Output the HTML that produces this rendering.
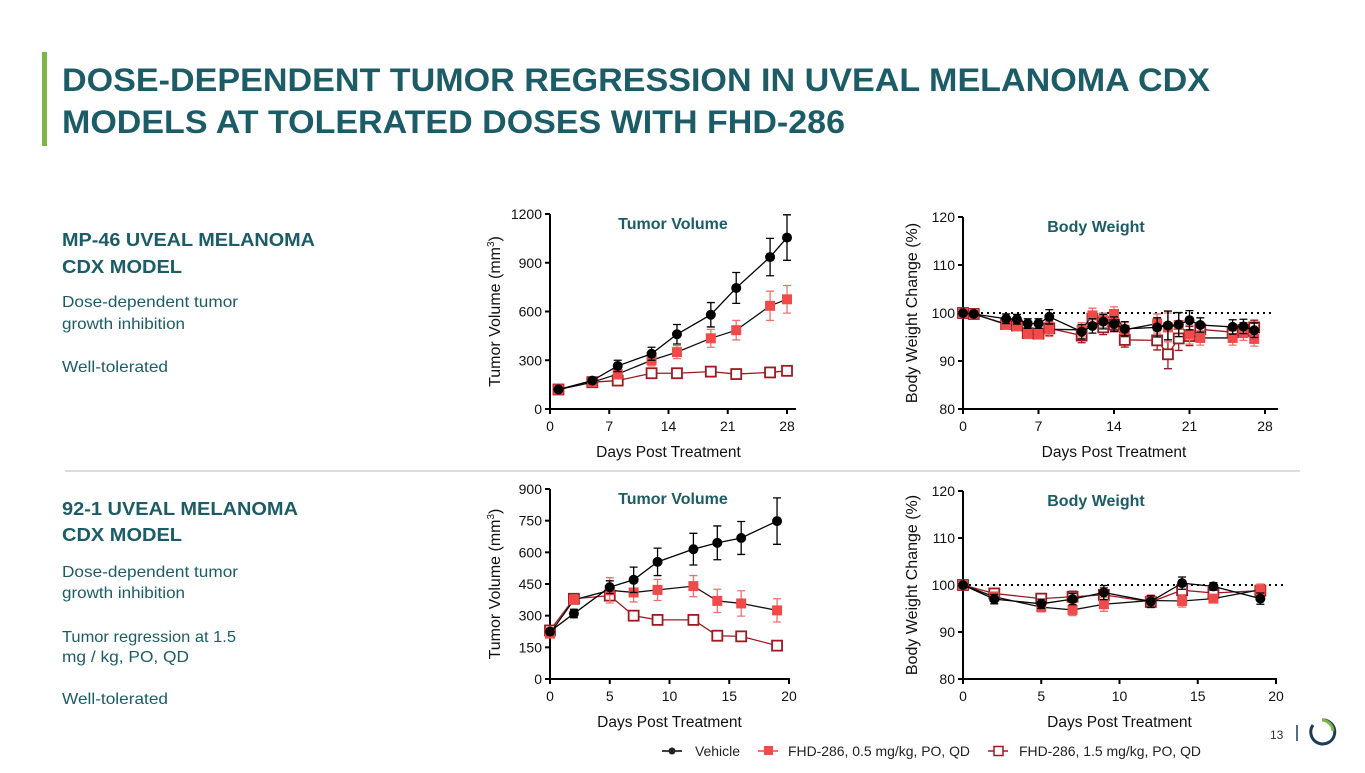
<!DOCTYPE html>
<html><head><meta charset="utf-8"><style>
body{margin:0;width:1365px;height:768px;overflow:hidden;background:#fff;font-family:"Liberation Sans",Arial,sans-serif;}
</style></head><body>
<svg id="s" width="1365" height="768" xmlns="http://www.w3.org/2000/svg" font-family="Liberation Sans, Arial, sans-serif">
<rect x="42" y="52" width="5" height="94" fill="#7ab648"/>
<text fill="#1b5c66" font-size="32" font-weight="bold"><tspan x="62" y="91" textLength="1148" lengthAdjust="spacingAndGlyphs">DOSE-DEPENDENT TUMOR REGRESSION IN UVEAL MELANOMA CDX</tspan><tspan x="62" y="133" textLength="783" lengthAdjust="spacingAndGlyphs">MODELS AT TOLERATED DOSES WITH FHD-286</tspan></text>
<g fill="#1b5c66">
<text x="62" y="246" font-size="18" font-weight="bold" textLength="253" lengthAdjust="spacingAndGlyphs">MP-46 UVEAL MELANOMA</text>
<text x="62" y="273" font-size="18" font-weight="bold" textLength="120" lengthAdjust="spacingAndGlyphs">CDX MODEL</text>
<text x="62" y="307" font-size="16" textLength="176" lengthAdjust="spacingAndGlyphs">Dose-dependent tumor</text>
<text x="62" y="329" font-size="16" textLength="123" lengthAdjust="spacingAndGlyphs">growth inhibition</text>
<text x="62" y="372" font-size="16" textLength="106" lengthAdjust="spacingAndGlyphs">Well-tolerated</text>
</g>
<line x1="65" y1="471" x2="1300" y2="471" stroke="#d0d0d0" stroke-width="1.5"/>
<g fill="#1b5c66">
<text x="62" y="515" font-size="18" font-weight="bold" textLength="236" lengthAdjust="spacingAndGlyphs">92-1 UVEAL MELANOMA</text>
<text x="62" y="541" font-size="18" font-weight="bold" textLength="120" lengthAdjust="spacingAndGlyphs">CDX MODEL</text>
<text x="62" y="577" font-size="16" textLength="176" lengthAdjust="spacingAndGlyphs">Dose-dependent tumor</text>
<text x="62" y="598" font-size="16" textLength="123" lengthAdjust="spacingAndGlyphs">growth inhibition</text>
<text x="62" y="642" font-size="16" textLength="174" lengthAdjust="spacingAndGlyphs">Tumor regression at 1.5</text>
<text x="62" y="662" font-size="16" textLength="127" lengthAdjust="spacingAndGlyphs">mg / kg, PO, QD</text>
<text x="62" y="704" font-size="16" textLength="106" lengthAdjust="spacingAndGlyphs">Well-tolerated</text>
</g>
<g font-size="14" fill="#222">
<line x1="662" y1="751" x2="682" y2="751" stroke="#000" stroke-width="1.5"/><circle cx="672" cy="751" r="3.5"/>
<text x="695" y="756" textLength="45" lengthAdjust="spacingAndGlyphs">Vehicle</text>
<line x1="758" y1="751" x2="778" y2="751" stroke="#e84545" stroke-width="1.5"/><rect x="764" y="746" width="9" height="9" fill="#ef4b4b"/>
<text x="788" y="756" textLength="182" lengthAdjust="spacingAndGlyphs">FHD-286, 0.5 mg/kg, PO, QD</text>
<line x1="988" y1="751" x2="1008" y2="751" stroke="#a01820" stroke-width="1.5"/><rect x="994" y="746.5" width="9" height="9" fill="#fff" stroke="#a01820" stroke-width="1.5"/>
<text x="1019" y="756" textLength="182" lengthAdjust="spacingAndGlyphs">FHD-286, 1.5 mg/kg, PO, QD</text>
</g>
<text x="1270" y="739" font-size="12" fill="#333">13</text>
<line x1="1297" y1="725" x2="1297" y2="741" stroke="#1b3a5c" stroke-width="1.5"/>
<path d="M1322 720 A12 12 0 1 1 1313 725" fill="none" stroke="#1b3a5c" stroke-width="3"/>
<path d="M1322 720 A12 12 0 0 1 1333 731" fill="none" stroke="#7ab648" stroke-width="3"/>
</svg>
<script>
// ---- Chart data ----
const tvTopDays=[1,5,8,12,15,19,22,26,28];
const tvTopVeh=[120,175,265,340,460,580,745,935,1055];
const tvTopVehErr=[10,15,35,40,60,75,95,115,140];
const tvTopLow=[120,165,215,300,350,435,485,635,675];
const tvTopLowErr=[10,10,30,35,40,55,60,90,85];
const tvTopHigh=[120,165,175,220,220,230,215,225,235];
const tvTopHighErr=[10,10,20,30,25,30,25,25,30];

const bwTopDays=[0,1,4,5,6,7,8,11,12,13,14,15,18,19,20,21,22,25,26,27];
const bwTopVeh=[100,99.8,98.8,98.7,97.8,97.8,99.2,96.1,97.3,98.2,97.7,96.7,97,97.4,97.6,98.5,97.5,97.1,97.2,96.4];
const bwTopLow=[100,99.8,97.6,97.3,95.7,95.6,96.6,96.5,99.5,98.5,99.8,96.5,97.8,97,97.5,95.5,94.8,94.8,95.8,94.6];
const bwTopHigh=[100,99.8,97.7,97.4,95.8,95.7,96.8,95.3,98.8,97,97.6,94.4,94.3,91.4,94.7,95.2,96.6,96,96.5,97];
const bwTopErr=[0.5,0.5,1,1,1,1,1.5,1.5,1.5,1.5,1.5,1.5,2,3,2.5,2,1.5,1.5,1.5,1.5];

const tvBotDays=[0,2,5,7,9,12,14,16,19];
const tvBotVeh=[225,310,435,470,555,615,645,668,748];
const tvBotVehErr=[15,20,30,60,65,75,80,78,110];
const tvBotLow=[215,375,420,410,422,440,370,358,325];
const tvBotLowErr=[15,15,60,45,50,50,55,60,55];
const tvBotHigh=[230,380,395,300,280,280,205,202,158];
const tvBotHighErr=[10,10,10,8,8,8,8,8,8];

const bwBotDays=[0,2,5,7,9,12,14,16,19];
const bwBotVeh=[100,97,96,97,98.4,96.5,100.4,99.7,97.1];
const bwBotLow=[100,97.5,95.3,94.7,95.9,96.7,96.6,97.1,99];
const bwBotHigh=[100,98.2,97.1,97.5,97.9,96.4,98.9,98.3,98.8];
const bwBotErr=[0.5,1,1,1.2,1.5,1.2,1.3,0.8,1.2];

const xTicksTop=[0,7,14,21,28];
const xTicksBot=[0,5,10,15,20];
const tvTopYTicks=[0,300,600,900,1200];
const tvBotYTicks=[0,150,300,450,600,750,900];
const bwYTicks=[80,90,100,110,120];

const NS="http://www.w3.org/2000/svg";
const svg=document.getElementById('s');
function mk(tag,attrs,parent){const e=document.createElementNS(NS,tag);for(const k in attrs)e.setAttribute(k,attrs[k]);(parent||svg).appendChild(e);return e;}

function chart(cfg){
  const g=mk('g',{});
  
  
  const X=v=>cfg.x0+(v-cfg.xmin)/(cfg.xmax-cfg.xmin)*(cfg.x1-cfg.x0);
  const Y=v=>cfg.y0-(v-cfg.ymin)/(cfg.ymax-cfg.ymin)*(cfg.y0-cfg.y1);
  const ax=mk('line',{x1:cfg.x0,y1:cfg.y0,x2:cfg.xend,y2:cfg.y0,stroke:'#000','stroke-width':2},g);
  
  const ay=mk('line',{x1:cfg.x0,y1:cfg.y0+1,x2:cfg.x0,y2:cfg.y1,stroke:'#000','stroke-width':2},g);
  
  cfg.xt.forEach(t=>{
    mk('line',{x1:X(t),y1:cfg.y0,x2:X(t),y2:cfg.y0+5,stroke:'#000','stroke-width':2},g);
    const tx=mk('text',{x:X(t),y:cfg.y0+22,'font-size':14,'text-anchor':'middle',fill:'#111'},g);
    tx.textContent=t;
  });
  cfg.yt.forEach(t=>{
    mk('line',{x1:cfg.x0-5,y1:Y(t),x2:cfg.x0,y2:Y(t),stroke:'#000','stroke-width':2},g);
    const tx=mk('text',{x:cfg.x0-8,y:Y(t)+5,'font-size':14,'text-anchor':'end',fill:'#111'},g);
    tx.textContent=t;
  });
  const xt=mk('text',{x:(cfg.x0+cfg.x1)/2,y:cfg.y0+48,'font-size':15.5,'text-anchor':'middle',fill:'#111'},g);
  xt.textContent='Days Post Treatment';
  const yc=(cfg.y0+cfg.y1)/2;
  const yt=mk('text',{x:cfg.ytx,y:yc,'font-size':16,'text-anchor':'middle',fill:'#111',transform:`rotate(-90 ${cfg.ytx} ${yc})`},g);
  
  if(cfg.tv){yt.innerHTML='Tumor Volume (mm<tspan dy="-6" font-size="10">3</tspan><tspan dy="6">)</tspan>';}
  else yt.textContent='Body Weight Change (%)';
  const ct=mk('text',{x:cfg.titleX,y:cfg.y1+15,'font-size':16,'font-weight':'bold','text-anchor':'middle',fill:'#1b5c66'},g);
  ct.textContent=cfg.title;
  if(!cfg.tv){
    const rl=mk('line',{x1:cfg.x0,y1:Y(100),x2:cfg.x1+8,y2:Y(100),stroke:'#000','stroke-width':2,'stroke-dasharray':'2 4'},g);
    
  }
  const series=[
    {n:'vehicle',v:cfg.veh,e:cfg.vehE,c:'#000',m:'circle'},
    {n:'fhd286-0.5',v:cfg.low,e:cfg.lowE,c:'#ef4b4b',m:'fsq'},
    {n:'fhd286-1.5',v:cfg.high,e:cfg.highE,c:'#a01820',m:'osq'}
  ];
  series.reverse().forEach(s=>{
    const sg=mk('g',{},g);
    
    const lc=s.m==='fsq'?'#111':s.c;
    const pl=mk('polyline',{points:cfg.days.map((d,i)=>X(d)+','+Y(s.v[i])).join(' '),fill:'none',stroke:lc,'stroke-width':1.3},sg);
    
    cfg.days.forEach((d,i)=>{
      const x=X(d),y=Y(s.v[i]),e=s.e[i];
      const ec=s.c==='#ef4b4b'?'#f07070':s.c;
      mk('path',{d:`M${x} ${Y(s.v[i]+e)}V${Y(s.v[i]-e)}M${x-4} ${Y(s.v[i]+e)}H${x+4}M${x-4} ${Y(s.v[i]-e)}H${x+4}`,stroke:ec,'stroke-width':1.3,fill:'none'},sg);
      let mkr;
      if(s.m==='circle')mkr=mk('circle',{cx:x,cy:y,r:5,fill:'#000'},sg);
      else if(s.m==='fsq')mkr=mk('rect',{x:x-5,y:y-5,width:10,height:10,fill:'#ef4b4b'},sg);
      else mkr=mk('rect',{x:x-5,y:y-5,width:10,height:10,fill:'#fff',stroke:'#a01820','stroke-width':1.8},sg);
      
    });
  });
}
chart({name:'mp46-tumor-volume-chart',tv:true,title:'Tumor Volume',titleX:673,x0:550,x1:787,xend:796,xmin:0,xmax:28,y0:409,y1:214,ymin:0,ymax:1200,xt:xTicksTop,yt:tvTopYTicks,ytx:500,days:tvTopDays,veh:tvTopVeh,vehE:tvTopVehErr,low:tvTopLow,lowE:tvTopLowErr,high:tvTopHigh,highE:tvTopHighErr});
chart({name:'mp46-body-weight-chart',tv:false,title:'Body Weight',titleX:1096,x0:963,x1:1265,xend:1278,xmin:0,xmax:28,y0:409,y1:217,ymin:80,ymax:120,xt:xTicksTop,yt:bwYTicks,ytx:917,days:bwTopDays,veh:bwTopVeh,vehE:bwTopErr,low:bwTopLow,lowE:bwTopErr,high:bwTopHigh,highE:bwTopErr});
chart({name:'921-tumor-volume-chart',tv:true,title:'Tumor Volume',titleX:673,x0:550,x1:789,xend:790,xmin:0,xmax:20,y0:679,y1:489,ymin:0,ymax:900,xt:xTicksBot,yt:tvBotYTicks,ytx:500,days:tvBotDays,veh:tvBotVeh,vehE:tvBotVehErr,low:tvBotLow,lowE:tvBotLowErr,high:tvBotHigh,highE:tvBotHighErr});
chart({name:'921-body-weight-chart',tv:false,title:'Body Weight',titleX:1096,x0:963,x1:1276,xend:1277,xmin:0,xmax:20,y0:679,y1:491,ymin:80,ymax:120,xt:xTicksBot,yt:bwYTicks,ytx:917,days:bwBotDays,veh:bwBotVeh,vehE:bwBotErr,low:bwBotLow,lowE:bwBotErr,high:bwBotHigh,highE:bwBotErr});
</script>
</body></html>
